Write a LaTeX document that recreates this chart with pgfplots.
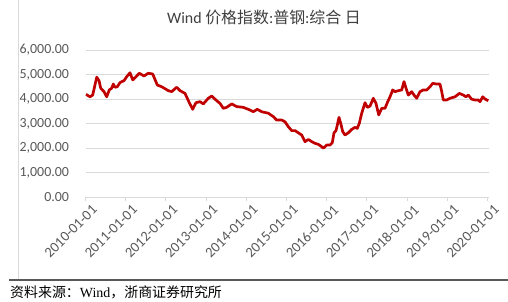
\documentclass[border=0pt]{standalone}
\usepackage{fontspec}
\setmainfont{Carlito}
\newfontfamily\cjk{Noto Sans CJK SC}
\newfontfamily\serifw{Liberation Serif}
\usepackage{pgfplots}
\pgfplotsset{compat=1.18}
\definecolor{redline}{HTML}{C00000}
\definecolor{gridgray}{HTML}{D9D9D9}
\definecolor{labgray}{HTML}{595959}
\definecolor{titlegray}{HTML}{404040}

\begin{document}
\begin{tikzpicture}
\useasboundingbox (0bp,0bp) rectangle (508bp,302bp);
\fill[white] (0bp,0bp) rectangle (508bp,302bp);
\draw[gridgray, line width=1bp] (18.3bp,302bp) -- (18.3bp,22bp);
\draw[labgray, line width=1.1bp] (9bp,22bp) -- (508bp,22bp);
\node[anchor=center, inner sep=0, text=titlegray, font=\fontsize{16}{18}\selectfont] at (264bp,285bp) {Wind {\cjk 价格指数}:{\cjk 普钢}:{\cjk 综合} {\cjk 日}};
\node[anchor=west, inner sep=0, text=black, font=\fontsize{14}{16}\selectfont] at (10bp,9.5bp) {{\cjk 资料来源：}{\serifw Wind}{\cjk ，浙商证券研究所}};
\begin{axis}[
  at={(85.5bp,105bp)}, anchor=south west, scale only axis,
  width=403.5bp, height=147bp,
  xmin=2010, xmax=2020.037, ymin=0, ymax=6000,
  axis x line*=bottom, axis y line*=left,
  x axis line style={draw=gridgray, line width=1bp, -},
  y axis line style={draw=none},
  ytick={0,1000,...,6000},
  ymajorgrids, grid style={gridgray, line width=1bp},
  y tick style={draw=none},
  xtick={2010,2011,...,2020},
  xticklabels={2010-01-01,2011-01-01,2012-01-01,2013-01-01,2014-01-01,2015-01-01,2016-01-01,2017-01-01,2018-01-01,2019-01-01,2020-01-01},
  tick align=outside, major tick length=4bp,
  x tick style={draw=gridgray, line width=1bp},
  xticklabel style={rotate=45, anchor=north east, inner sep=1bp, font=\fontsize{14.5}{16}\selectfont, text=labgray, xshift=3bp, yshift=-5bp},
  yticklabel style={font=\fontsize{14}{16}\selectfont, text=labgray, xshift=-9bp},
  /pgf/number format/.cd, fixed, fixed zerofill, precision=2, 1000 sep={,}, assume math mode=true,
]
\addplot[redline, line width=2.7bp, line join=round, no markers] coordinates {
(2010.012,4190) (2010.112,4090) (2010.179,4160) (2010.279,4890) (2010.336,4750)
(2010.378,4440) (2010.460,4300) (2010.527,4090) (2010.592,4370) (2010.652,4440)
(2010.692,4610) (2010.734,4480) (2010.791,4500) (2010.858,4670) (2010.958,4750)
(2011.025,4910) (2011.107,5070) (2011.174,4780) (2011.256,4910) (2011.338,5050)
(2011.455,4940) (2011.562,5050) (2011.672,5020) (2011.786,4570) (2011.896,4500)
(2012.060,4340) (2012.144,4300) (2012.269,4480) (2012.351,4340) (2012.475,4230)
(2012.582,3850) (2012.667,3580) (2012.749,3850) (2012.848,3890) (2012.930,3800)
(2013.055,4030) (2013.139,4120) (2013.264,3930) (2013.346,3820) (2013.428,3620)
(2013.512,3660) (2013.637,3800) (2013.761,3690) (2013.925,3660) (2014.092,3550)
(2014.174,3480) (2014.274,3580) (2014.383,3480) (2014.547,3420) (2014.672,3280)
(2014.756,3140) (2014.881,3140) (2014.963,3070) (2015.045,2870) (2015.129,2710)
(2015.211,2710) (2015.294,2620) (2015.378,2530) (2015.460,2260) (2015.542,2350)
(2015.627,2260) (2015.709,2190) (2015.791,2150) (2015.876,2050) (2015.915,1990)
(2016.000,2120) (2016.082,2120) (2016.139,2220) (2016.182,2620) (2016.231,2710)
(2016.264,2940) (2016.306,3250) (2016.348,3010) (2016.398,2670) (2016.455,2530)
(2016.537,2620) (2016.622,2760) (2016.704,2840) (2016.761,2800) (2016.811,3010)
(2016.871,3420) (2016.953,3850) (2017.010,3660) (2017.077,3710) (2017.159,4030)
(2017.226,3820) (2017.294,3350) (2017.368,3620) (2017.450,3620) (2017.507,3850)
(2017.575,4090) (2017.642,4370) (2017.699,4300) (2017.781,4340) (2017.866,4370)
(2017.923,4710) (2017.973,4440) (2018.030,4160) (2018.114,4300) (2018.172,4160)
(2018.239,4030) (2018.321,4300) (2018.403,4370) (2018.488,4370) (2018.570,4500)
(2018.637,4640) (2018.736,4610) (2018.818,4610) (2018.861,4300) (2018.900,3960)
(2018.985,3960) (2019.067,4030) (2019.192,4090) (2019.299,4230) (2019.398,4160)
(2019.465,4090) (2019.522,4160) (2019.607,3990) (2019.689,3960) (2019.771,3960)
(2019.813,3890) (2019.881,4090) (2019.938,4000) (2020.020,3930)
};
\end{axis}
\end{tikzpicture}
\end{document}
